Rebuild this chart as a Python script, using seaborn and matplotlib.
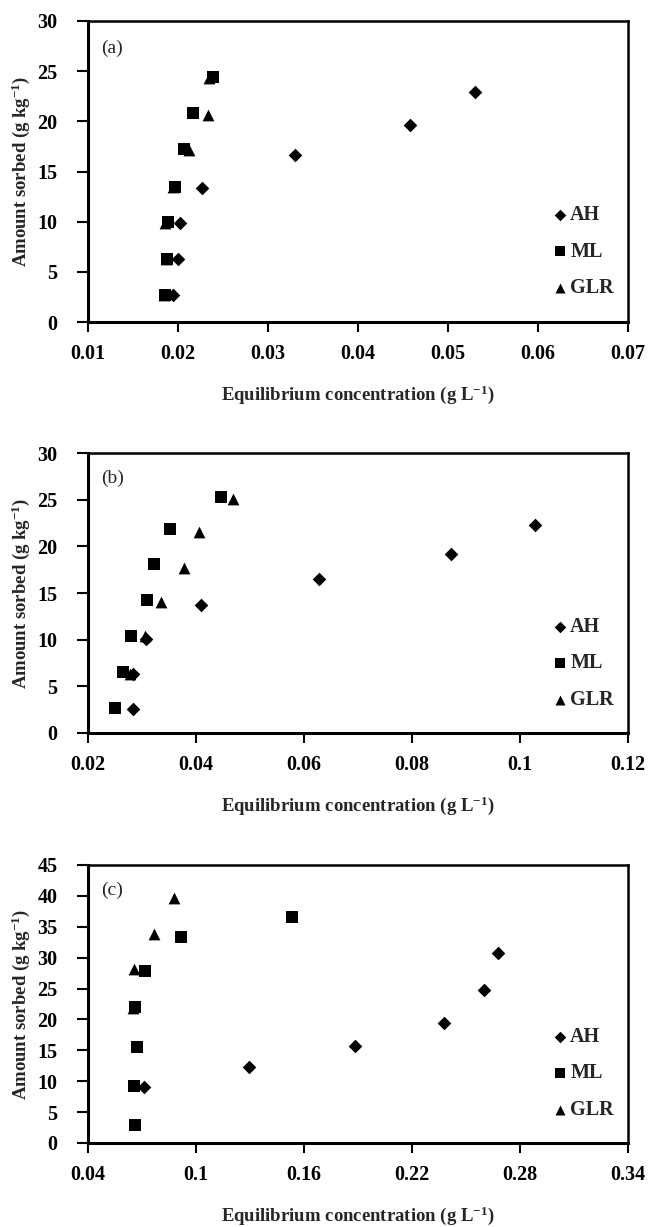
import numpy as np
import pandas as pd
import matplotlib
matplotlib.use("Agg")
import matplotlib.pyplot as plt
import seaborn as sns

# ---------------- data ----------------
SERIES = ["AH", "ML", "GLR"]

# panel (a)
A_AH_X = [0.0194, 0.0200, 0.0202, 0.0227, 0.0330, 0.0458, 0.0530]
A_AH_Y = [2.7, 6.3, 9.9, 13.4, 16.6, 19.6, 22.9]
A_ML_X = [0.0186, 0.0188, 0.0189, 0.0197, 0.0207, 0.0217, 0.0239]
A_ML_Y = [2.7, 6.3, 10.0, 13.5, 17.2, 20.8, 24.4]
A_GLR_X = [0.0185, 0.0187, 0.0186, 0.0194, 0.0212, 0.0233, 0.0234]
A_GLR_Y = [2.7, 6.3, 9.9, 13.5, 17.1, 20.6, 24.3]

# panel (b)
B_AH_X = [0.0283, 0.0284, 0.0307, 0.0410, 0.0628, 0.0873, 0.1028]
B_AH_Y = [2.6, 6.3, 10.1, 13.7, 16.5, 19.2, 22.3]
B_ML_X = [0.0250, 0.0265, 0.0279, 0.0310, 0.0322, 0.0352, 0.0446]
B_ML_Y = [2.7, 6.5, 10.4, 14.3, 18.1, 21.9, 25.3]
B_GLR_X = [0.0278, 0.0306, 0.0336, 0.0378, 0.0406, 0.0468]
B_GLR_Y = [6.3, 10.4, 14.0, 17.7, 21.5, 25.1]

# panel (c)
C_AH_X = [0.0710, 0.1292, 0.1883, 0.2379, 0.2602, 0.2676]
C_AH_Y = [9.0, 12.3, 15.7, 19.5, 24.8, 30.7]
C_ML_X = [0.0660, 0.0655, 0.0672, 0.0662, 0.0716, 0.0915, 0.1533]
C_ML_Y = [2.9, 9.2, 15.5, 22.0, 27.9, 33.3, 36.6]
C_GLR_X = [0.0650, 0.0655, 0.0766, 0.0878]
C_GLR_Y = [21.8, 28.2, 33.9, 39.7]

A_XTICKS = [0.01, 0.02, 0.03, 0.04, 0.05, 0.06, 0.07]
A_XLABELS = ["0.01", "0.02", "0.03", "0.04", "0.05", "0.06", "0.07"]
B_XTICKS = [0.02, 0.04, 0.06, 0.08, 0.10, 0.12]
B_XLABELS = ["0.02", "0.04", "0.06", "0.08", "0.1", "0.12"]
C_XTICKS = [0.04, 0.10, 0.16, 0.22, 0.28, 0.34]
C_XLABELS = ["0.04", "0.1", "0.16", "0.22", "0.28", "0.34"]
AB_YTICKS = [0, 5, 10, 15, 20, 25, 30]
C_YTICKS = [0, 5, 10, 15, 20, 25, 30, 35, 40, 45]

PANEL_LABELS = ["(a)", "(b)", "(c)"]
XLABEL = "Equilibrium concentration (g L$^{\\mathbf{-1}}$)"
YLABEL = "Amount sorbed (g kg$^{\\mathbf{-1}}$)"

# ---------------- style ----------------
sns.set_theme(style="white")
plt.rcParams["font.family"] = ["Liberation Serif", "DejaVu Serif"]
plt.rcParams["mathtext.fontset"] = "custom"
plt.rcParams["mathtext.rm"] = "Liberation Serif"
plt.rcParams["mathtext.bf"] = "Liberation Serif:bold"
plt.rcParams["mathtext.default"] = "bf"

MARKERS = {"AH": "D", "ML": "s", "GLR": "^"}
SIZES = {"AH": 48, "ML": 78, "GLR": 72}

W, H = 650, 1227
fig = plt.figure(figsize=(W / 100, H / 100), dpi=100)

# axes boxes in pixels (left, top, right, bottom)
boxes = [(88, 21, 628, 322), (88, 453, 628, 733), (88, 865, 628, 1143)]

panels = [
    ((A_AH_X, A_AH_Y), (A_ML_X, A_ML_Y), (A_GLR_X, A_GLR_Y), A_XTICKS, A_XLABELS, AB_YTICKS),
    ((B_AH_X, B_AH_Y), (B_ML_X, B_ML_Y), (B_GLR_X, B_GLR_Y), B_XTICKS, B_XLABELS, AB_YTICKS),
    ((C_AH_X, C_AH_Y), (C_ML_X, C_ML_Y), (C_GLR_X, C_GLR_Y), C_XTICKS, C_XLABELS, C_YTICKS),
]

for i, (box, panel) in enumerate(zip(boxes, panels)):
    l, t, r, b = box
    ax = fig.add_axes([l / W, 1 - b / H, (r - l) / W, (b - t) / H])
    ah, ml, glr, xt, xl, yt = panel
    for name, (xs, ys) in zip(SERIES, (ah, ml, glr)):
        df = pd.DataFrame({"x": xs, "y": ys})
        sns.scatterplot(data=df, x="x", y="y", ax=ax, marker=MARKERS[name],
                        s=SIZES[name], color="black", edgecolor="black",
                        linewidth=0, label=name, zorder=3, clip_on=False)
    ax.set_xlim(xt[0], xt[-1])
    ax.set_ylim(yt[0], yt[-1])
    ax.set_xticks(xt)
    ax.set_xticklabels(xl)
    ax.set_yticks(yt)
    ax.set_yticklabels([str(v) for v in yt])
    for lab in ax.get_xticklabels() + ax.get_yticklabels():
        lab.set_fontweight("bold")
        lab.set_fontsize(14.5)
    ax.tick_params(axis="x", direction="out", length=7, width=1.5, pad=9, colors="black", bottom=True)
    ax.tick_params(axis="y", direction="out", length=8, width=1.5, pad=14, colors="black", left=True)
    for sp in ax.spines.values():
        sp.set_color("black")
        sp.set_linewidth(1.8)
    ax.spines["left"].set_linewidth(2.2)
    ax.spines["bottom"].set_linewidth(2.2)
    ax.grid(False)
    ax.set_xlabel(XLABEL, fontsize=13.5, fontweight="bold", labelpad=14)
    ax.set_ylabel(YLABEL, fontsize=13.5, fontweight="bold", labelpad=4)
    ax.text(0.025, 0.91, PANEL_LABELS[i], transform=ax.transAxes, fontsize=14,
            ha="left", va="center")
    leg = ax.legend(loc="lower right", bbox_to_anchor=(1.0, 0.032), frameon=False,
                    fontsize=14.5, handletextpad=0.0, labelspacing=0.82,
                    borderaxespad=0.3, handlelength=1.0, markerscale=0.85)
    for txt in leg.get_texts():
        txt.set_fontweight("bold")

fig.savefig("out.png", dpi=100, facecolor="white")
